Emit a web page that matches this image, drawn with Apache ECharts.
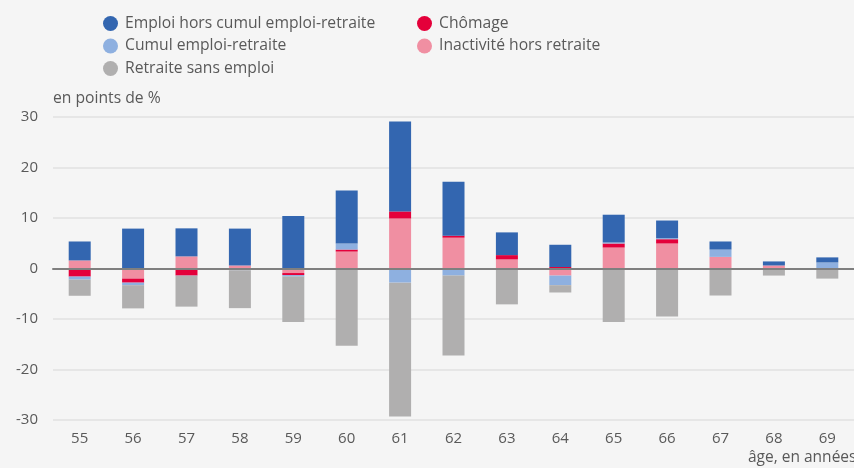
<!DOCTYPE html>
<html>
<head>
<meta charset="utf-8">
<script src="https://cdn.jsdelivr.net/npm/echarts@6/dist/echarts.min.js"></script>
<style>
html,body{margin:0;padding:0;background:#f5f5f5;}
#c{width:854px;height:468px;}
</style>
</head>
<body>
<div id="c"></div>
<script>
const categories = ['55','56','57','58','59','60','61','62','63','64','65','66','67','68','69'];
const inactivite = [1.6, -2.0, 2.4, 0.6, -0.9, 3.35, 9.9, 6.1, 1.8, -1.4, 4.15, 4.95, 2.3, 0.6, 0];
const chomage    = [-1.6, -0.8, -1.4, -0.15, -0.4, 0.4, 1.4, 0.4, 0.85, 0.3, 0.8, 0.85, -0.2, -0.1, 0];
const cumul      = [-0.6, -0.5, -0.05, -0.2, -0.3, 1.2, -2.8, -1.4, 0, -1.9, 0.2, 0.2, 1.45, 0, 1.2];
const emploi     = [3.75, 7.9, 5.55, 7.3, 10.4, 10.5, 17.8, 10.7, 4.5, 4.4, 5.5, 3.5, 1.6, 0.8, 1.0];
const retraite   = [-3.2, -4.6, -6.1, -7.5, -9.0, -15.3, -26.5, -15.85, -7.1, -1.45, -10.6, -9.5, -5.15, -1.3, -2.0];
const yTicks = [-30, -20, -10, 0, 10, 20, 30];

const names = {
  emploi: 'Emploi hors cumul emploi-retraite',
  chomage: 'Chômage',
  cumul: 'Cumul emploi-retraite',
  inact: 'Inactivité hors retraite',
  retraite: 'Retraite sans emploi'
};
const colors = {
  emploi: '#3366b0',
  chomage: '#e4003a',
  cumul: '#8eb0e0',
  inact: '#f08fa2',
  retraite: '#b0afaf'
};
const FONT = 'Open Sans';
const TXT = '#595959';

function bar(key, data) {
  return {
    name: names[key], type: 'bar', stack: 'tot', data: data,
    barWidth: 22, itemStyle: { color: colors[key] }
  };
}

const chart = echarts.init(document.getElementById('c'), null, { renderer: 'canvas' });
const legendBase = {
  orient: 'vertical', icon: 'circle', itemWidth: 15, itemHeight: 15, itemGap: 5.5,
  selectedMode: false,
  textStyle: { fontFamily: FONT, fontSize: 15.7, color: TXT, lineHeight: 17, padding: [0, 0, 0, 2] }
};
chart.setOption({
  backgroundColor: '#f5f5f5',
  animation: false,
  textStyle: { fontFamily: FONT },
  legend: [
    Object.assign({}, legendBase, { left: 98, top: 10, data: [names.emploi, names.cumul, names.retraite] }),
    Object.assign({}, legendBase, { left: 412, top: 10, data: [names.chomage, names.inact] })
  ],
  grid: { left: 53, right: -2, top: 117, bottom: 48, containLabel: false },
  xAxis: {
    type: 'category', data: categories, z: 10,
    axisLine: { onZero: true, lineStyle: { color: '#7f7f7f', width: 2 } },
    axisTick: { show: false },
    axisLabel: { color: TXT, fontSize: 15, fontFamily: FONT, margin: 11 }
  },
  yAxis: {
    type: 'value', min: yTicks[0], max: yTicks[yTicks.length - 1], interval: 10,
    axisLine: { show: false }, axisTick: { show: false },
    axisLabel: { color: TXT, fontSize: 15, fontFamily: FONT, margin: 15 },
    splitLine: { lineStyle: { color: '#e0e0e0', width: 1.5 } }
  },
  graphic: [
    { type: 'text', left: 53, top: 91, style: { text: 'en points de %', fill: TXT, font: '15.7px "Open Sans"' } },
    { type: 'text', left: 748, top: 450, style: { text: 'âge, en années', fill: TXT, font: '15.5px "Open Sans"' } }
  ],
  series: [
    bar('inact', inactivite),
    bar('chomage', chomage),
    bar('cumul', cumul),
    bar('emploi', emploi),
    bar('retraite', retraite)
  ]
});
</script>
</body>
</html>
